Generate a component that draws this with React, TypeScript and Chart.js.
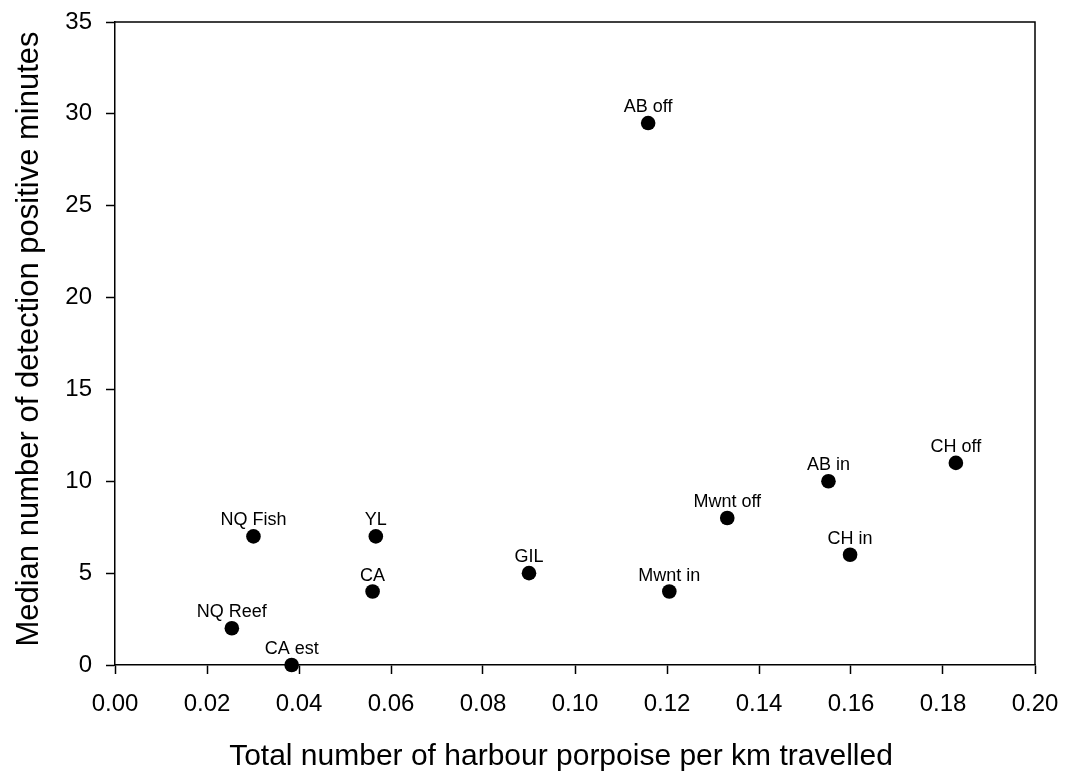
import React, { useEffect, useRef } from "react";
import { Chart, registerables } from "chart.js";

Chart.register(...registerables);

const siteLabels = ["NQ Reef", "NQ Fish", "CA est", "CA", "YL", "GIL", "AB off", "Mwnt in", "Mwnt off", "AB in", "CH in", "CH off"];
const porpoisePerKm = [0.0254, 0.0301, 0.0384, 0.056, 0.0567, 0.09, 0.1159, 0.1205, 0.1331, 0.1551, 0.1598, 0.1828];
const medianDpm = [2, 7, 0, 4, 7, 5, 29.5, 4, 8, 10, 6, 11];

const xTitle = "Total number of harbour porpoise per km travelled";
const yTitle = "Median number of detection positive minutes";

const FONT = "'Liberation Sans', Arial, Helvetica, sans-serif";

const pointLabelPlugin = {
  id: "pointLabels",
  afterDatasetsDraw(chart: any) {
    const ctx = chart.ctx;
    const meta = chart.getDatasetMeta(0);
    ctx.save();
    ctx.fillStyle = "#000";
    ctx.font = `18px ${FONT}`;
    ctx.textAlign = "center";
    ctx.textBaseline = "alphabetic";
    meta.data.forEach((pt: any, i: number) => {
      ctx.fillText(siteLabels[i], pt.x, pt.y - 11);
    });
    ctx.restore();
  },
};

const framePlugin = {
  id: "frame",
  afterDraw(chart: any) {
    const { ctx, chartArea } = chart;
    ctx.save();
    ctx.strokeStyle = "#000";
    ctx.lineWidth = 1.5;
    ctx.beginPath();
    ctx.moveTo(chartArea.left, chartArea.top);
    ctx.lineTo(chartArea.right, chartArea.top);
    ctx.lineTo(chartArea.right, chartArea.bottom);
    ctx.stroke();

    // axis titles
    ctx.fillStyle = "#000";
    ctx.textAlign = "center";
    ctx.textBaseline = "alphabetic";
    ctx.font = `30px ${FONT}`;
    ctx.fillText(xTitle, 561, 765);
    ctx.translate(38, 339);
    ctx.rotate(-Math.PI / 2);
    ctx.font = `31px ${FONT}`;
    ctx.fillText(yTitle, 0, 0);
    ctx.restore();
  },
};

export default function App() {
  const ref = useRef<HTMLCanvasElement | null>(null);

  useEffect(() => {
    if (!ref.current) return;
    const chart = new Chart(ref.current, {
      type: "scatter",
      data: {
        datasets: [
          {
            data: porpoisePerKm.map((x, i) => ({ x, y: medianDpm[i] })),
            backgroundColor: "#000",
            borderWidth: 0,
            pointRadius: 7.3,
            pointHoverRadius: 7.3,
            clip: false as any,
          },
        ],
      },
      options: {
        responsive: false,
        animation: false,
        events: [],
        layout: { padding: { top: 22, right: 30, left: 0, bottom: 0 } },
        plugins: { legend: { display: false }, tooltip: { enabled: false } },
        scales: {
          x: {
            type: "linear",
            min: 0,
            max: 0.2,
            afterFit: (s: any) => {
              s.height = 109;
              s.paddingLeft = 0;
              s.paddingRight = 0;
            },
            ticks: {
              stepSize: 0.02,
              color: "#000",
              font: { size: 24, family: FONT },
              padding: 16,
              maxRotation: 0,
              callback: (v: any) => Number(v).toFixed(2),
            },
            grid: { drawOnChartArea: false, tickLength: 9, tickWidth: 1.5, tickColor: "#000" },
            border: { display: true, color: "#000", width: 1.5 },
            title: { display: false },
          },
          y: {
            type: "linear",
            min: 0,
            max: 35,
            afterFit: (s: any) => {
              s.width = 115;
              s.paddingTop = 0;
              s.paddingBottom = 0;
            },
            ticks: {
              stepSize: 5,
              color: "#000",
              font: { size: 24, family: FONT },
              padding: 14,
            },
            grid: { drawOnChartArea: false, tickLength: 9, tickWidth: 1.5, tickColor: "#000" },
            border: { display: true, color: "#000", width: 1.5 },
            title: { display: false },
          },
        },
      },
      plugins: [pointLabelPlugin, framePlugin],
    });
    return () => chart.destroy();
  }, []);

  return (
    <div style={{ position: "fixed", left: 0, top: 0, width: 1065, height: 774, background: "#fff" }}>
      <canvas ref={ref} width={1065} height={774} style={{ width: 1065, height: 774 }} />
    </div>
  );
}
